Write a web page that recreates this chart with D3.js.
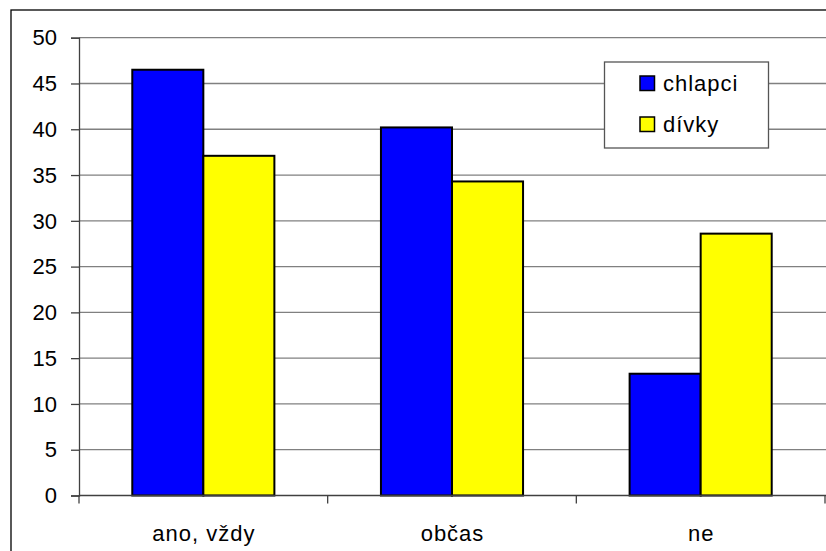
<!DOCTYPE html>
<html>
<head>
<meta charset="utf-8">
<script src="https://cdn.jsdelivr.net/npm/d3@7"></script>
<style>
  html, body { margin: 0; padding: 0; background: #fff; }
  svg { display: block; }
  text { font-family: "Liberation Sans", Arial, sans-serif; fill: #000; }
</style>
</head>
<body>
<svg id="chart" width="826" height="551"></svg>
<script>
const categories = ["ano, vždy", "občas", "ne"];
const seriesNames = ["chlapci", "dívky"];
const chlapci = [46.5, 40.2, 13.3];
const divky = [37.1, 34.3, 28.6];
const seriesColors = ["#0000FF", "#FFFF00"];
const yTicks = [0, 5, 10, 15, 20, 25, 30, 35, 40, 45, 50];

const seriesValues = [chlapci, divky];
const data = categories.map((c, i) => ({
  cat: c,
  vals: seriesNames.map((s, j) => ({ s, v: seriesValues[j][i], color: seriesColors[j] }))
}));

const svg = d3.select("#chart");
const W = 826, H = 551;
const plot = { left: 79, right: 825, top: 37.7, bottom: 495.5 };

svg.append("rect").attr("x", 0).attr("y", 0).attr("width", W).attr("height", H).attr("fill", "#fff");
// outer chart border
svg.append("rect").attr("x", 11).attr("y", 10).attr("width", 840).attr("height", 570)
  .attr("fill", "none").attr("stroke", "#000").attr("stroke-width", 1.3);

const x0 = d3.scaleBand().domain(categories).range([plot.left, plot.right]).paddingInner(0).paddingOuter(0);
const x1 = d3.scaleBand().domain(seriesNames).range([0, x0.bandwidth()]).paddingInner(0).paddingOuter(0.75);
const y = d3.scaleLinear().domain([0, 50]).range([plot.bottom, plot.top]);

// gridlines
svg.append("g").selectAll("line").data(yTicks.filter(t => t > 0)).join("line")
  .attr("x1", plot.left).attr("x2", plot.right + 5)
  .attr("y1", d => y(d)).attr("y2", d => y(d))
  .attr("stroke", "#808080").attr("stroke-width", 1.3);

// y axis
const yAxis = d3.axisLeft(y).tickValues(yTicks).tickSize(8).tickPadding(14).tickFormat(d3.format("d"));
const gy = svg.append("g").attr("transform", `translate(${plot.left},0)`).call(yAxis);
gy.select(".domain").attr("stroke", "#404040").attr("stroke-width", 1.3);
gy.selectAll(".tick line").attr("stroke", "#404040").attr("stroke-width", 1.3);
gy.selectAll(".tick text").attr("font-size", 22).attr("font-family", "Liberation Sans, Arial, sans-serif").attr("fill", "#000").attr("dy", "0.33em");

// bars
const groups = svg.append("g").selectAll("g").data(data).join("g")
  .attr("transform", d => `translate(${x0(d.cat)},0)`);
groups.selectAll("rect").data(d => d.vals).join("rect")
  .attr("x", d => x1(d.s))
  .attr("y", d => y(d.v))
  .attr("width", x1.bandwidth())
  .attr("height", d => y(0) - y(d.v))
  .attr("fill", d => d.color)
  .attr("stroke", "#000").attr("stroke-width", 2);

// x axis
const xTickPos = [plot.left].concat(categories.map(c => x0(c) + x0.bandwidth()));
const gx = svg.append("g");
gx.append("line").attr("x1", plot.left).attr("x2", plot.right + 5)
  .attr("y1", y(0)).attr("y2", y(0)).attr("stroke", "#404040").attr("stroke-width", 1.3);
gx.selectAll("line.tk").data(xTickPos).join("line").attr("class", "tk")
  .attr("x1", d => d).attr("x2", d => d).attr("y1", y(0)).attr("y2", y(0) + 8)
  .attr("stroke", "#404040").attr("stroke-width", 1.3);
gx.selectAll("text").data(categories).join("text")
  .attr("x", d => x0(d) + x0.bandwidth() / 2 + 0.5).attr("y", 541)
  .attr("text-anchor", "middle").attr("font-size", 22).attr("letter-spacing", 1).text(d => d);

// legend
const lg = svg.append("g");
lg.append("rect").attr("x", 604.5).attr("y", 62).attr("width", 164).attr("height", 86)
  .attr("fill", "#fff").attr("stroke", "#555").attr("stroke-width", 1.3);
const items = lg.selectAll("g").data(seriesNames).join("g")
  .attr("transform", (d, i) => `translate(640,${76 + i * 41})`);
items.append("rect").attr("x", 0).attr("y", 0).attr("width", 14.5).attr("height", 14.5)
  .attr("fill", (d, i) => seriesColors[i]).attr("stroke", "#000").attr("stroke-width", 1.5);
items.append("text").attr("x", 23).attr("y", 14.5).attr("font-size", 22).attr("letter-spacing", 1).text(d => d);
</script>
</body>
</html>
